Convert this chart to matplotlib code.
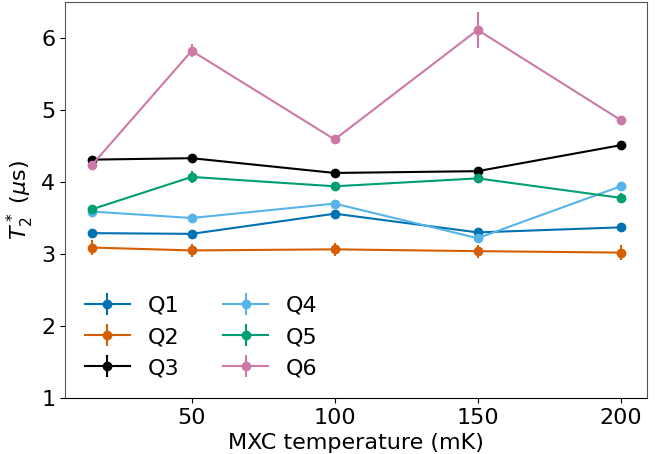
import matplotlib
matplotlib.use("Agg")
import matplotlib.pyplot as plt

# MXC temperature (mK)
temps = [15, 50, 100, 150, 200]

labels = ["Q1", "Q2", "Q3", "Q4", "Q5", "Q6"]
colors = ["#0072B2", "#D55E00", "#000000", "#56B4E9", "#009E73", "#CC79A7"]

# T2* values (us)
q1 = [3.29, 3.28, 3.56, 3.30, 3.37]
q2 = [3.09, 3.05, 3.065, 3.04, 3.02]
q3 = [4.31, 4.33, 4.125, 4.15, 4.51]
q4 = [3.59, 3.50, 3.70, 3.22, 3.94]
q5 = [3.62, 4.07, 3.94, 4.05, 3.78]
q6 = [4.23, 5.82, 4.59, 6.11, 4.86]

# error bars
q1_err = [0.03, 0.03, 0.04, 0.03, 0.03]
q2_err = [0.10, 0.09, 0.09, 0.09, 0.10]
q3_err = [0.02, 0.02, 0.02, 0.02, 0.02]
q4_err = [0.04, 0.05, 0.04, 0.05, 0.06]
q5_err = [0.05, 0.08, 0.05, 0.07, 0.07]
q6_err = [0.04, 0.09, 0.04, 0.25, 0.04]

values = [q1, q2, q3, q4, q5, q6]
errors = [q1_err, q2_err, q3_err, q4_err, q5_err, q6_err]

plt.rcParams['font.size'] = 16
fig = plt.figure(figsize=(6.65, 4.54), dpi=100)
ax = fig.add_axes([0.098, 0.123, 0.875, 0.873])

for lab, col, v, e in zip(labels, colors, values, errors):
    ax.errorbar(temps, v, yerr=e, marker='o', markersize=6, color=col,
                linewidth=1.5, label=lab)

ax.set_ylim(1, 6.5)
ax.set_xticks([50, 100, 150, 200])
ax.set_yticks([1, 2, 3, 4, 5, 6])
ax.set_xlabel("MXC temperature (mK)")
ax.set_ylabel(r"$T_2^*$ ($\mu$s)")
for s in ax.spines.values():
    s.set_color("#555555")
ax.spines['bottom'].set_color("black")
ax.legend(loc="lower left", ncol=2, frameon=False, fontsize=16)

fig.savefig("out.png", dpi=100)
